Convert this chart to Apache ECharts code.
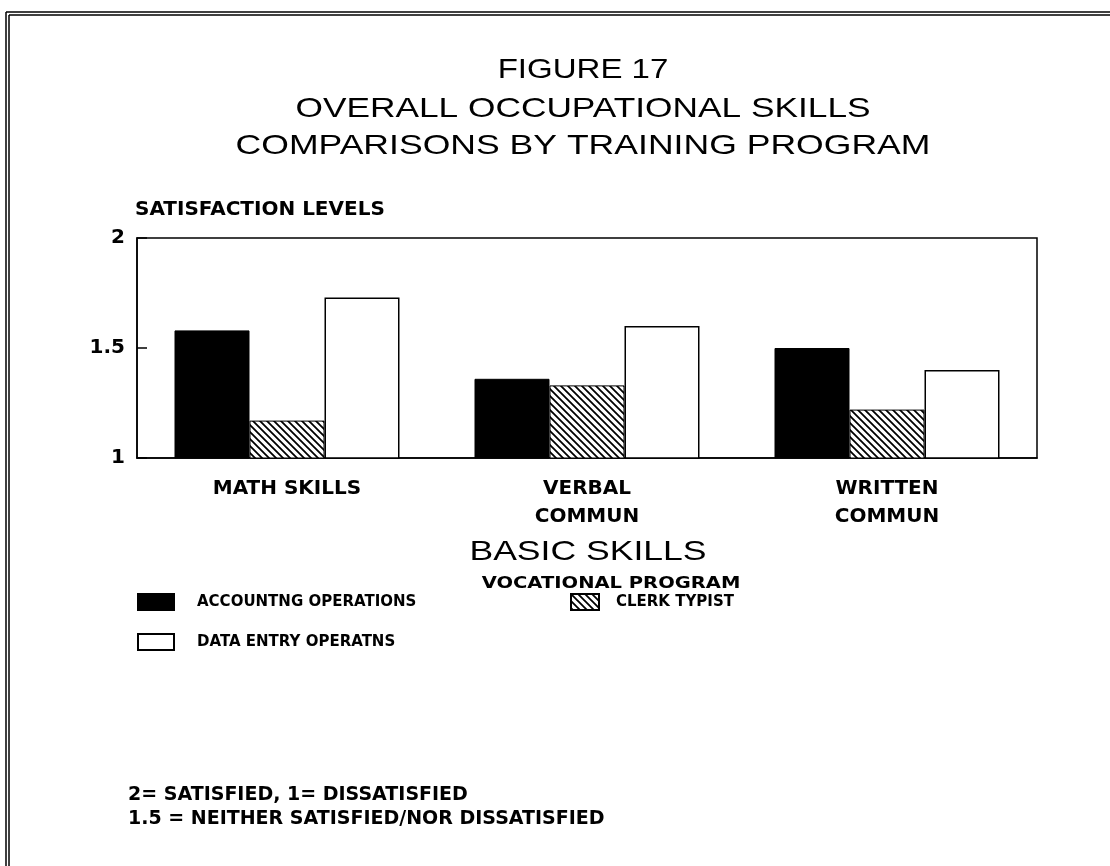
<!DOCTYPE html>
<html>
<head>
<meta charset="utf-8">
<script src="https://cdn.jsdelivr.net/npm/echarts@6/dist/echarts.min.js"></script>
<style>
html,body{margin:0;padding:0;background:#fff;}
#chart{width:1110px;height:866px;}
</style>
</head>
<body>
<div id="chart"></div>
<script>
// ---- data ----
const categories = ['MATH SKILLS', 'VERBAL\nCOMMUN', 'WRITTEN\nCOMMUN'];
const seriesNames = ['ACCOUNTNG OPERATIONS', 'CLERK TYPIST', 'DATA ENTRY OPERATNS'];
const accounting = [1.58, 1.36, 1.50];
const clerkTypist = [1.17, 1.33, 1.22];
const dataEntry = [1.73, 1.60, 1.40];
const yTickLabels = ['1', '1.5', '2'];
const titleLines = ['FIGURE 17', 'OVERALL OCCUPATIONAL SKILLS', 'COMPARISONS BY TRAINING PROGRAM'];
const footnotes = ['2= SATISFIED, 1= DISSATISFIED', '1.5 = NEITHER SATISFIED/NOR DISSATISFIED'];

function hatchCanvas() {
  const s = 7;
  const c = document.createElement('canvas');
  c.width = s; c.height = s;
  const g = c.getContext('2d');
  g.fillStyle = '#fff'; g.fillRect(0, 0, s, s);
  g.strokeStyle = '#000'; g.lineWidth = 1.8;
  g.beginPath();
  g.moveTo(-1, -1); g.lineTo(s + 1, s + 1);
  g.moveTo(-1, s - 1); g.lineTo(1, s + 1);
  g.moveTo(s - 1, -1); g.lineTo(s + 1, 1);
  g.stroke();
  return c;
}

const bold = 'DejaVu Sans';
const chart = echarts.init(document.getElementById('chart'), null, {renderer: 'canvas'});

const graphics = [];
// border double lines
[[6, 12], [9, 15]].forEach(([x, y]) => {
  graphics.push({type: 'line', shape: {x1: x, y1: y, x2: x, y2: 866}, style: {stroke: '#000', lineWidth: 1.5}});
  graphics.push({type: 'line', shape: {x1: x, y1: y, x2: 1110, y2: y}, style: {stroke: '#000', lineWidth: 1.5}});
});
const titleY = [70, 109, 146];
const titleScale = [1.18, 1.26, 1.27];
titleLines.forEach((t, i) => {
  graphics.push({type: 'text', x: 583, y: titleY[i], scaleX: titleScale[i],
    style: {text: t, align: 'center', verticalAlign: 'middle', fill: '#000',
      font: '28px "Liberation Sans", Arial, sans-serif'}});
});
graphics.push({type: 'text', x: 588, y: 552, scaleX: 1.27,
  style: {text: 'BASIC SKILLS', align: 'center', verticalAlign: 'middle', fill: '#000',
    font: '28px "Liberation Sans", Arial, sans-serif'}});
graphics.push({type: 'text', x: 611, y: 584, scaleX: 1.22,
  style: {text: 'VOCATIONAL PROGRAM', align: 'center', verticalAlign: 'middle', fill: '#000',
    font: 'bold 16px "DejaVu Sans", sans-serif'}});
footnotes.forEach((t, i) => {
  graphics.push({type: 'text', x: 128, y: 795 + i * 24,
    style: {text: t, align: 'left', verticalAlign: 'middle', fill: '#000',
      font: 'bold 19px "DejaVu Sans", sans-serif'}});
});

const legendText = {fontFamily: bold, fontWeight: 'bold', fontSize: 15, color: '#000', padding: [0, 0, 0, 18]};
const legendBase = {orient: 'horizontal', itemWidth: 36, itemHeight: 16, itemGap: 0, icon: 'rect', textStyle: legendText};

chart.setOption({
  animation: false,
  backgroundColor: '#fff',
  graphic: graphics,
  grid: {left: 137, right: 73, top: 238, bottom: 408, show: true, borderColor: '#000', borderWidth: 1.5, backgroundColor: 'transparent'},
  legend: [
    Object.assign({data: [seriesNames[0]], left: 132, top: 588}, legendBase),
    Object.assign({data: [seriesNames[1]], left: 565, top: 588}, legendBase, {itemWidth: 28, textStyle: Object.assign({}, legendText, {padding: [0, 0, 0, 12]})}),
    Object.assign({data: [seriesNames[2]], left: 132, top: 628}, legendBase)
  ],
  xAxis: {
    type: 'category', data: categories,
    axisLine: {lineStyle: {color: '#000', width: 1.5}},
    axisTick: {show: false},
    axisLabel: {color: '#000', fontFamily: bold, fontWeight: 'bold', fontSize: 20, lineHeight: 28, margin: 17, interval: 0}
  },
  yAxis: {
    type: 'value', min: 1, max: 2, interval: 0.5,
    name: 'SATISFACTION LEVELS', nameLocation: 'end', nameGap: 18,
    nameTextStyle: {align: 'left', color: '#000', fontFamily: bold, fontWeight: 'bold', fontSize: 20, padding: [0, 0, 0, -2]},
    axisLine: {show: true, lineStyle: {color: '#000', width: 1.5}},
    axisTick: {show: true, inside: true, length: 10, lineStyle: {color: '#000', width: 1.5}},
    splitLine: {show: false},
    axisLabel: {color: '#000', fontFamily: bold, fontWeight: 'bold', fontSize: 20, margin: 12,
      formatter: v => yTickLabels[Math.round((v - 1) / 0.5)]}
  },
  series: [
    {name: seriesNames[0], type: 'bar', data: accounting, barWidth: 75, barGap: '0%',
      itemStyle: {color: '#000', borderColor: '#000', borderWidth: 1}},
    {name: seriesNames[1], type: 'bar', data: clerkTypist, barWidth: 75, barGap: '0%',
      itemStyle: {color: {image: hatchCanvas(), repeat: 'repeat'}, borderColor: '#000', borderWidth: 1}},
    {name: seriesNames[2], type: 'bar', data: dataEntry, barWidth: 75, barGap: '0%',
      itemStyle: {color: '#fff', borderColor: '#000', borderWidth: 1.5}}
  ]
});
</script>
</body>
</html>
